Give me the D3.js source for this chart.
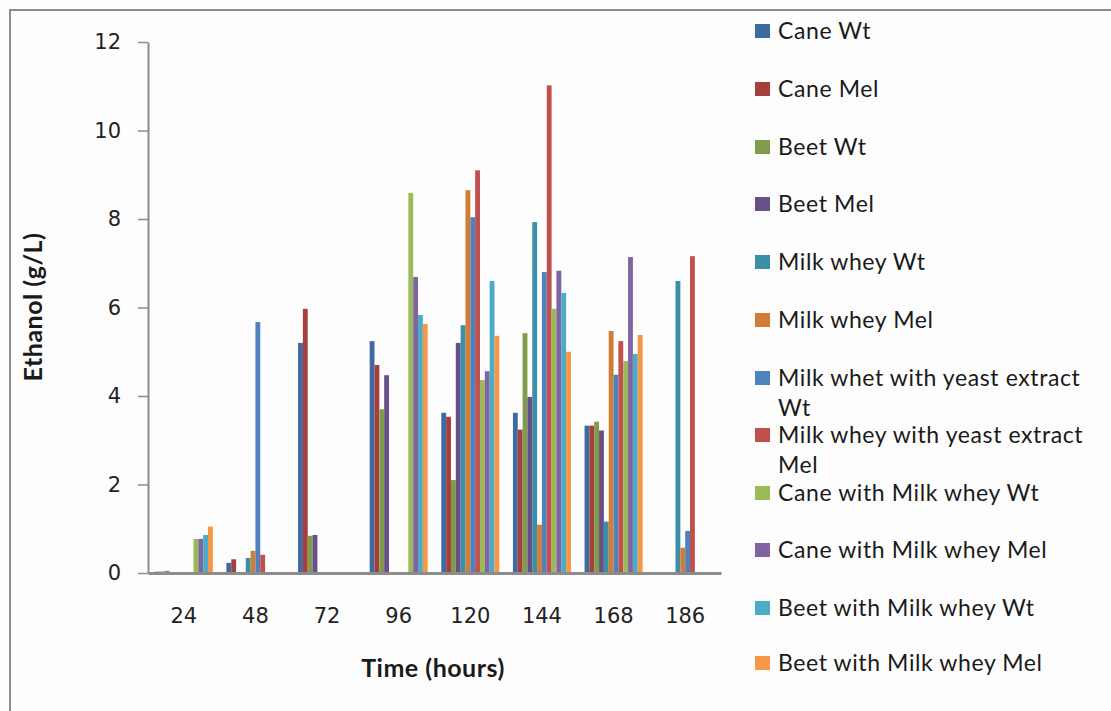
<!DOCTYPE html>
<html>
<head>
<meta charset="utf-8">
<script src="https://cdn.jsdelivr.net/npm/d3@7"></script>
<style>
  html, body { margin: 0; padding: 0; background: #fdfdfd; }
  svg { display: block; }
</style>
</head>
<body>
<svg id="chart" width="1111" height="711"></svg>
<script>
// Sampling times (hours)
const categories = ["24", "48", "72", "96", "120", "144", "168", "186"];

// Ethanol concentration (g/L) per substrate / strain; null = not measured
const caneWt        = [0.03, 0.23, 5.20, 5.24, 3.62, 3.62, 3.33, null];
const caneMel       = [0.03, 0.31, 5.97, 4.70, 3.53, 3.24, 3.33, null];
const beetWt        = [0.05, null, 0.84, 3.70, 2.10, 5.42, 3.42, null];
const beetMel       = [0.02, 0.02, 0.86, 4.47, 5.20, 3.98, 3.22, null];
const wheyWt        = [null, 0.34, null, null, 5.60, 7.93, 1.16, 6.60];
const wheyMel       = [null, 0.50, null, null, 8.65, 1.09, 5.47, 0.57];
const wheyYeastWt   = [null, 5.67, null, null, 8.04, 6.80, 4.48, 0.95];
const wheyYeastMel  = [null, 0.41, null, null, 9.10, 11.02, 5.24, 7.16];
const caneWheyWt    = [0.77, null, null, 8.59, 4.36, 5.97, 4.79, null];
const caneWheyMel   = [0.77, null, null, 6.69, 4.56, 6.83, 7.14, null];
const beetWheyWt    = [0.86, null, null, 5.83, 6.60, 6.33, 4.95, null];
const beetWheyMel   = [1.05, null, null, 5.63, 5.36, 5.00, 5.38, null];

const seriesNames = [
  "Cane Wt", "Cane Mel", "Beet Wt", "Beet Mel", "Milk whey Wt", "Milk whey Mel",
  "Milk whet with yeast extract Wt", "Milk whey with yeast extract Mel",
  "Cane with Milk whey Wt", "Cane with Milk whey Mel",
  "Beet with Milk whey Wt", "Beet with Milk whey Mel"
];
const seriesValues = [
  caneWt, caneMel, beetWt, beetMel, wheyWt, wheyMel,
  wheyYeastWt, wheyYeastMel, caneWheyWt, caneWheyMel, beetWheyWt, beetWheyMel
];
// Legend text split into lines
const legendLines = [
  ["Cane Wt"], ["Cane Mel"], ["Beet Wt"], ["Beet Mel"], ["Milk whey Wt"], ["Milk whey Mel"],
  ["Milk whet with yeast extract", "Wt"], ["Milk whey with yeast extract", "Mel"],
  ["Cane with Milk whey Wt"], ["Cane with Milk whey Mel"],
  ["Beet with Milk whey Wt"], ["Beet with Milk whey Mel"]
];
const colors = [
  "#3e6aa0", "#a53f3c", "#809b49", "#674f87", "#3a8ea5", "#d27d35",
  "#4f81bd", "#c0504d", "#9bbb59", "#8064a2", "#4bacc6", "#f79646"
];
const yTicks = [0, 2, 4, 6, 8, 10, 12];

const svg = d3.select("#chart");

// outer frame
svg.append("rect")
  .attr("x", 10).attr("y", 10).attr("width", 1200).attr("height", 800)
  .attr("fill", "#fdfdfd").attr("stroke", "#8c8c8c").attr("stroke-width", 2);

const plot = { left: 148, right: 721, top: 42, bottom: 573 };

const x0 = d3.scaleBand()
  .domain(categories)
  .range([plot.left, plot.right])
  .paddingInner(0.19)
  .paddingOuter(0.095);

const x1 = d3.scaleBand()
  .domain(d3.range(seriesNames.length))
  .range([0, x0.bandwidth()]);

const y = d3.scaleLinear().domain([0, 12]).range([plot.bottom, plot.top]);

// bars
const groups = svg.append("g").selectAll("g")
  .data(seriesValues)
  .join("g")
  .attr("fill", (d, i) => colors[i]);

groups.each(function (vals, si) {
  d3.select(this).selectAll("rect")
    .data(vals.map((v, ci) => ({ v, c: categories[ci] })).filter(d => d.v != null))
    .join("rect")
    .attr("x", d => x0(d.c) + x1(si))
    .attr("y", d => y(d.v))
    .attr("width", x1.bandwidth())
    .attr("height", d => y(0) - y(d.v));
});

// y axis
const yAxis = svg.append("g")
  .attr("transform", `translate(${plot.left},0)`)
  .call(d3.axisLeft(y).tickValues(yTicks).tickSize(10).tickPadding(17).tickSizeOuter(0));
yAxis.select(".domain").attr("stroke", "#8c8c8c").attr("stroke-width", 2);
yAxis.selectAll(".tick line").attr("stroke", "#8c8c8c").attr("stroke-width", 1.5);
yAxis.selectAll(".tick text")
  .attr("font-family", "DejaVu Sans, sans-serif")
  .attr("font-size", 21).attr("fill", "#222");

// x axis
const xAxis = svg.append("g")
  .attr("transform", `translate(0,${plot.bottom})`)
  .call(d3.axisBottom(x0).tickSize(0).tickPadding(35));
xAxis.select(".domain").attr("stroke", "#8c8c8c").attr("stroke-width", 3);
xAxis.selectAll(".tick text")
  .attr("font-family", "DejaVu Sans, sans-serif")
  .attr("font-size", 21).attr("fill", "#222");

// axis titles
svg.append("text")
  .attr("x", 433).attr("y", 677)
  .attr("text-anchor", "middle")
  .attr("font-family", "Lato, sans-serif").attr("font-weight", "bold")
  .attr("font-size", 25).attr("letter-spacing", 0.5).attr("fill", "#1a1a1a")
  .text("Time (hours)");

svg.append("text")
  .attr("transform", "translate(42,307) rotate(-90)")
  .attr("text-anchor", "middle")
  .attr("font-family", "Lato, sans-serif").attr("font-weight", "bold")
  .attr("font-size", 25).attr("letter-spacing", 0.5).attr("fill", "#1a1a1a")
  .text("Ethanol (g/L)");

// legend
const legend = svg.append("g");
const legendY = [31, 89, 147, 204, 262, 320, 378, 435, 493, 550, 608, 663];
legendLines.forEach((lines, i) => {
  const g = legend.append("g").attr("transform", `translate(755,${legendY[i]})`);
  g.append("rect")
    .attr("x", 0).attr("y", -7).attr("width", 15).attr("height", 14)
    .attr("fill", colors[i]);
  lines.forEach((t, li) => {
    g.append("text")
      .attr("x", 23).attr("y", li * 30)
      .attr("dy", "0.36em")
      .attr("font-family", "Lato, sans-serif")
      .attr("font-size", 23).attr("letter-spacing", 0.6).attr("fill", "#1a1a1a")
      .text(t);
  });
});
</script>
</body>
</html>
